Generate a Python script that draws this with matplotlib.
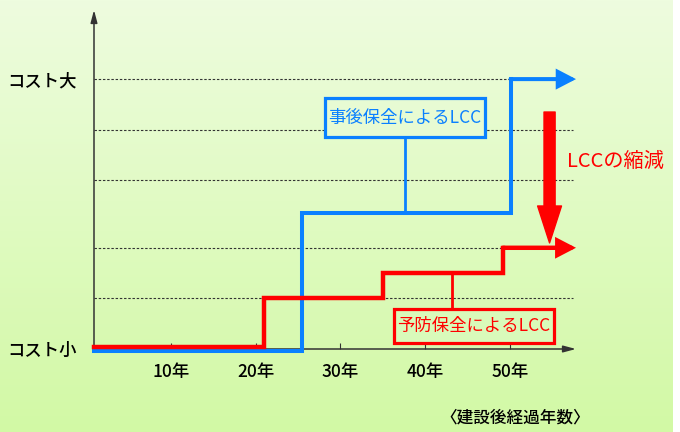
import numpy as np
import matplotlib
matplotlib.use("Agg")
import matplotlib.pyplot as plt
from matplotlib.patches import Rectangle

plt.rcParams['font.family'] = ['Noto Sans CJK JP', 'DejaVu Sans']

# --- data (years after construction / relative cost, 100 = コスト大) ---
year_ticks = [10, 20, 30, 40, 50]
year_labels = ['10年', '20年', '30年', '40年', '50年']
grid_levels = [19, 37.5, 62.5, 81, 100]

# 事後保全: large jumps late in life
blue_years = [0.94, 25.5, 50.1]
blue_cost = [-0.7, 50.5, 100]
# 予防保全: small regular steps
red_years = [0.94, 21.0, 35.0, 49.2]
red_cost = [0.7, 19, 28.2, 37.5]

x_min, x_max = 0.94, 57.82
y_max = 125.6
BLUE = '#0a80ff'
RED = '#ff0000'
BG_TOP = '#eefcdf'
BG_BOT = '#d2f9a5'

fig = plt.figure(figsize=(6.8, 4.32), dpi=100)
fig.patch.set_facecolor('white')

# gradient background panel
bg = fig.add_axes([0, 0, 673 / 680, 1])
bg.axis('off')
c0 = np.array(matplotlib.colors.to_rgb(BG_TOP))
c1 = np.array(matplotlib.colors.to_rgb(BG_BOT))
t = np.linspace(0, 1, 256)[:, None, None]
bg.imshow(c0 + (c1 - c0) * t, aspect='auto', extent=[0, 1, 0, 1])

ax = fig.add_axes([94 / 680, 1 - 349 / 432, 482 / 680, 339 / 432])
ax.set_facecolor('none')
ax.set_xlim(x_min, x_max)
ax.set_ylim(0, y_max)
for s in ax.spines.values():
    s.set_visible(False)

# axes drawn as arrows
arrow_kw = dict(arrowstyle='-|>,head_length=0.75,head_width=0.2', color='#333333',
                lw=1.1, mutation_scale=10, shrinkA=0, shrinkB=0)
ax.annotate('', xy=(0, 1), xytext=(0, 0), xycoords='axes fraction', arrowprops=arrow_kw)
ax.annotate('', xy=(1, 0), xytext=(0, 0), xycoords='axes fraction', arrowprops=arrow_kw)

# dashed reference levels
ax.hlines(grid_levels, x_min, 57.5, colors='#333333', linestyles=(0, (2.2, 1.6)), lw=0.8, zorder=1)

ax.set_xticks(year_ticks)
ax.set_xticklabels(year_labels, fontsize=12.5, fontweight='medium')
ax.tick_params(axis='x', direction='in', length=4.5, width=0.8, color='#333333', pad=10)
ax.set_yticks([0, 100])
ax.set_yticklabels(['コスト小', 'コスト大'], fontsize=12.5, fontweight='medium')
ax.tick_params(axis='y', length=0, pad=12)

def step_with_arrow(years, cost, color, lw):
    xs = list(years) + [years[-1]]
    ys = list(cost) + [cost[-1]]
    ax.step(xs, ys, where='post', color=color, lw=lw, clip_on=False, zorder=4,
            solid_joinstyle='miter')
    ax.annotate('', xy=(x_max, cost[-1]), xytext=(years[-1], cost[-1]),
                arrowprops=dict(arrowstyle='-|>,head_length=0.5,head_width=0.26',
                                color=color, lw=lw, mutation_scale=20,
                                shrinkA=0, shrinkB=0, joinstyle='miter'), zorder=4)

step_with_arrow(blue_years, blue_cost, BLUE, 2.9)
step_with_arrow(red_years, red_cost, RED, 3.2)

# label boxes with leader lines
ax.plot([37.6, 37.6], [78.5, blue_cost[1]], color=BLUE, lw=2.0, zorder=3)
ax.add_patch(Rectangle((28.2, 78.5), 18.9, 14.5, facecolor='#e7fbd3', edgecolor=BLUE,
                       lw=2.3, zorder=5, clip_on=False))
ax.text(37.65, 85.7, '事後保全によるLCC', color=BLUE, fontsize=12.5,
        ha='center', va='center', zorder=6)

ax.plot([43.15, 43.15], [14.8, red_cost[2]], color=RED, lw=2.0, zorder=3)
ax.add_patch(Rectangle((36.3, 2.2), 18.9, 12.6, facecolor='#d9faba', edgecolor=RED,
                       lw=2.3, zorder=5, clip_on=False))
ax.text(45.75, 8.5, '予防保全によるLCC', color=RED, fontsize=12.5,
        ha='center', va='center', zorder=6)

# reduction arrow
ax.annotate('', xy=(54.7, 39.3), xytext=(54.7, 87.8),
            arrowprops=dict(arrowstyle='simple,head_length=1.33,head_width=0.86,tail_width=0.4',
                            color=RED, mutation_scale=20, shrinkA=0, shrinkB=0), zorder=6)
ax.text(62.5, 69.6, 'LCCの縮減', color=RED, fontsize=14.5, ha='center', va='center')

fig.text(515 / 680, 1 - 418 / 432, '〈建設後経過年数〉', fontsize=12, fontweight='medium',
         ha='center', va='center')

plt.savefig('out.png', dpi=100)
